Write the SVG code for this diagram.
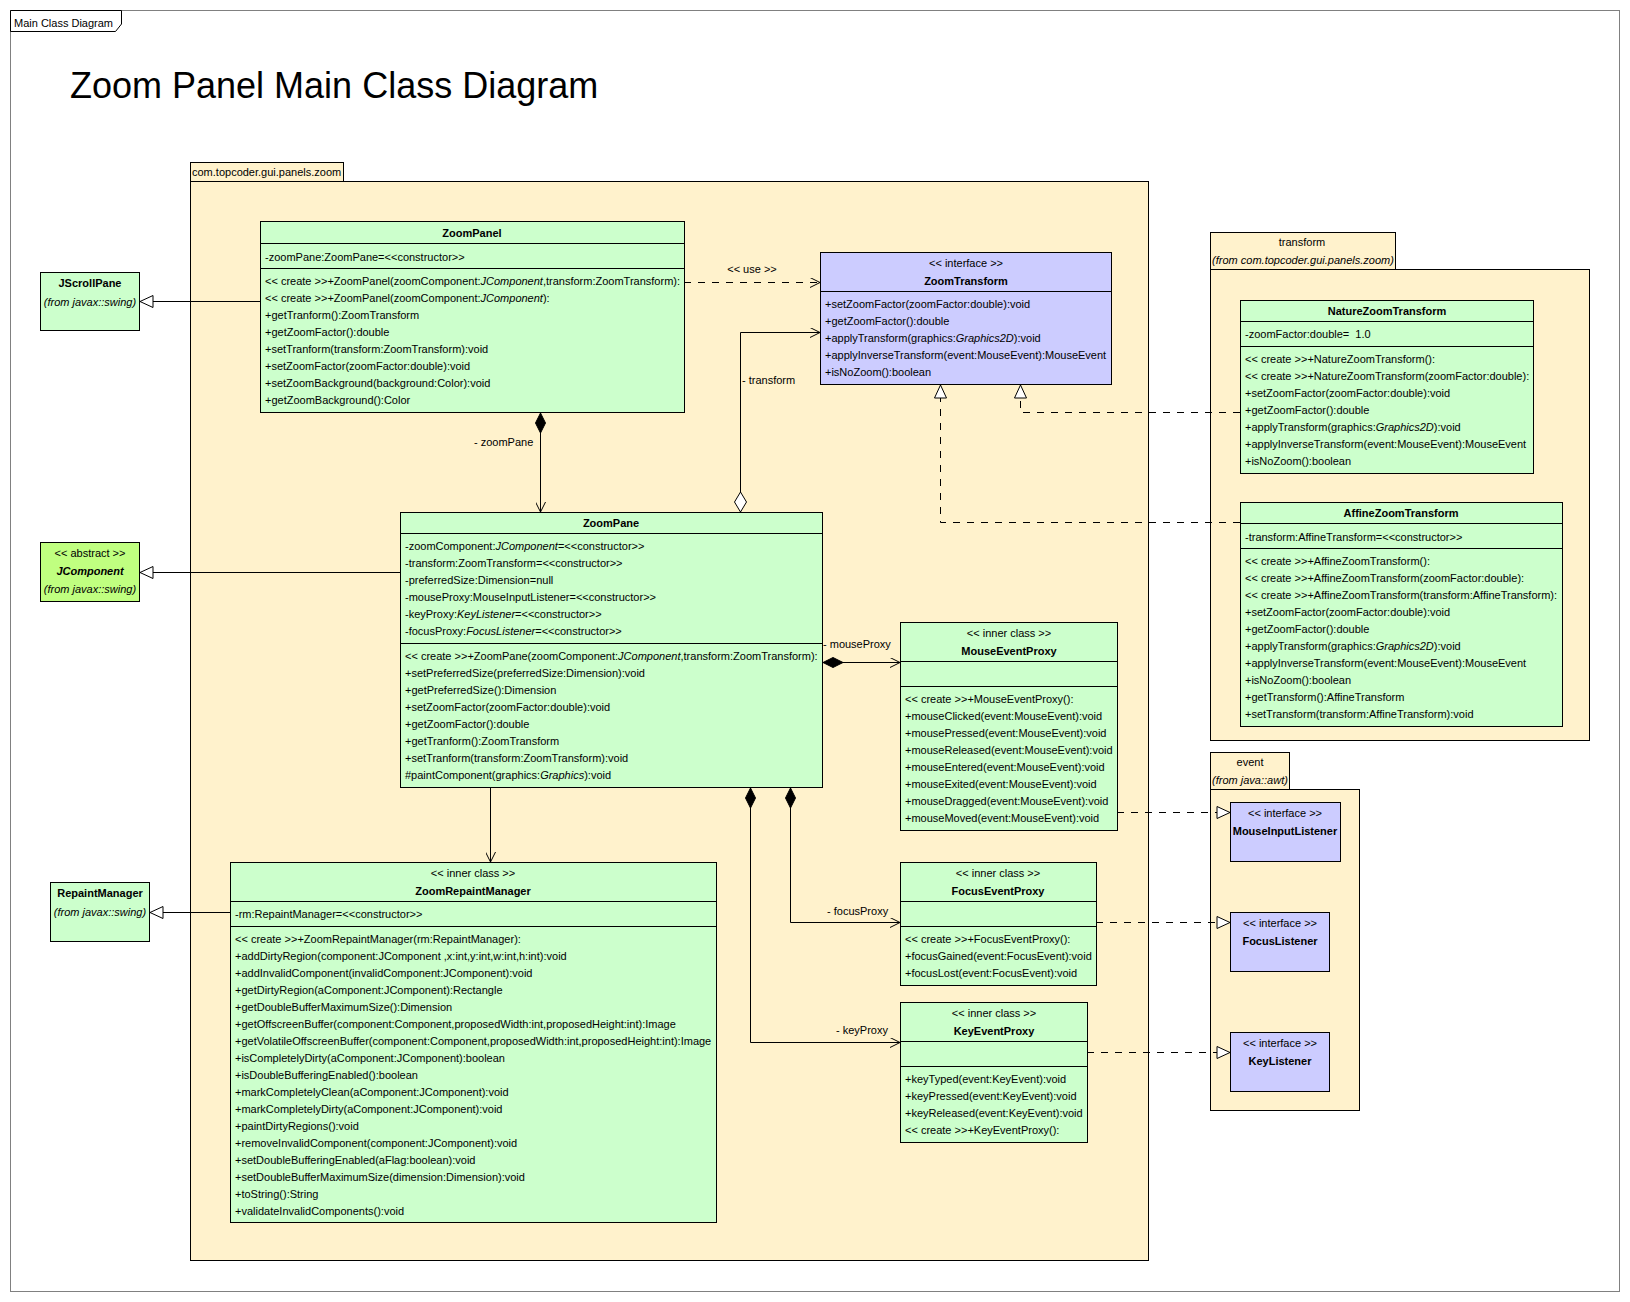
<svg xmlns="http://www.w3.org/2000/svg" width="1630" height="1302" viewBox="0 0 1630 1302">
<style>
.t{font-family:"Liberation Sans",Arial,sans-serif;font-size:11px;fill:#000}
.b{font-weight:bold}
.i{font-style:italic}
.c{text-anchor:middle}
.cls{fill:#CCFFCC;stroke:#000;stroke-width:1}
.ext{fill:#C0FF80;stroke:#000;stroke-width:1}
.itf{fill:#CCCCFF;stroke:#000;stroke-width:1}
.pkg{fill:#FFF2CC;stroke:#000;stroke-width:1}
.sep{stroke:#000;stroke-width:1}
.ln{stroke:#000;stroke-width:1;fill:none}
.dash{stroke-dasharray:7 7}
</style>
<defs>
<marker id="open" viewBox="0 0 10 10" refX="10" refY="5" markerWidth="10" markerHeight="10" markerUnits="userSpaceOnUse" orient="auto"><path d="M0,0 L10,5 L0,10" fill="none" stroke="#000" stroke-width="1"/></marker>
<marker id="tri" viewBox="-1 -1 15 14" refX="13" refY="6" markerWidth="15" markerHeight="14" markerUnits="userSpaceOnUse" orient="auto"><path d="M0,0 L13,6 L0,12 Z" fill="#fff" stroke="#000" stroke-width="1"/></marker>
<marker id="dfill" viewBox="-1 -1 22 12" refX="0" refY="5" markerWidth="22" markerHeight="12" markerUnits="userSpaceOnUse" orient="auto"><path d="M0,5 L10,0 L20,5 L10,10 Z" fill="#000" stroke="#000" stroke-width="1"/></marker>
<marker id="dopen" viewBox="-1 -1 22 14" refX="0" refY="6" markerWidth="22" markerHeight="14" markerUnits="userSpaceOnUse" orient="auto"><path d="M0,6 L10,0 L20,6 L10,12 Z" fill="#fff" stroke="#000" stroke-width="1"/></marker>
</defs>
<rect x="0" y="0" width="1630" height="1302" fill="#fff"/>
<g id="frame">
<rect x="10.5" y="10.5" width="1609" height="1281" fill="none" stroke="#808080"/>
<path d="M10.5,10.5 H121.5 V24 L115.5,31.5 H10.5 Z" fill="#fff" stroke="#000"/>
<text class="t" x="14" y="27" font-size="10.5">Main Class Diagram</text>
<text x="70" y="98" font-family="Liberation Sans,Arial,sans-serif" font-size="36">Zoom Panel Main Class Diagram</text>
</g>
<g id="pkg-zoom">
<rect class="pkg" x="190.5" y="181.5" width="958" height="1079"/>
<rect class="pkg" x="190.5" y="162.5" width="153" height="19"/>
<text class="t" x="192" y="176">com.topcoder.gui.panels.zoom</text>
</g>
<g id="pkg-transform">
<rect class="pkg" x="1210.5" y="269.5" width="379" height="471"/>
<rect class="pkg" x="1210.5" y="232.5" width="185" height="37"/>
<text class="t c" x="1302" y="246">transform</text>
<text class="t c i" x="1303" y="264">(from com.topcoder.gui.panels.zoom)</text>
</g>
<g id="pkg-event">
<rect class="pkg" x="1210.5" y="789.5" width="149" height="321"/>
<rect class="pkg" x="1210.5" y="752.5" width="79" height="37"/>
<text class="t c" x="1250" y="766">event</text>
<text class="t c i" x="1250" y="784">(from java::awt)</text>
</g>
<g id="connectors">
<path class="ln" d="M260,301.5 H140" marker-end="url(#tri)"/>
<path class="ln" d="M400,572.5 H140" marker-end="url(#tri)"/>
<path class="ln" d="M230,912.5 H150" marker-end="url(#tri)"/>
<path class="ln dash" d="M684,282.5 H820" marker-end="url(#open)"/>
<text class="t c" x="752" y="273">&lt;&lt; use &gt;&gt;</text>
<path class="ln" d="M540.5,413 V512" marker-start="url(#dfill)" marker-end="url(#open)"/>
<text class="t" x="474" y="446">- zoomPane</text>
<path class="ln" d="M740.5,512 V332.5 H820" marker-start="url(#dopen)" marker-end="url(#open)"/>
<text class="t" x="742" y="384">- transform</text>
<path class="ln" d="M490.5,788 V862" marker-end="url(#open)"/>
<path class="ln" d="M823,662.5 H900" marker-start="url(#dfill)" marker-end="url(#open)"/>
<text class="t" x="823" y="648">- mouseProxy</text>
<path class="ln" d="M790.5,788 V922.5 H900" marker-start="url(#dfill)" marker-end="url(#open)"/>
<text class="t" x="827" y="915">- focusProxy</text>
<path class="ln" d="M750.5,788 V1042.5 H900" marker-start="url(#dfill)" marker-end="url(#open)"/>
<text class="t" x="836" y="1034">- keyProxy</text>
<path class="ln dash" d="M1240,412.5 H1020.5 V385" marker-end="url(#tri)"/>
<path class="ln dash" d="M1240,522.5 H940.5 V385" marker-end="url(#tri)"/>
<path class="ln dash" d="M1117,812.5 H1230" marker-end="url(#tri)"/>
<path class="ln dash" d="M1096,922.5 H1230" marker-end="url(#tri)"/>
<path class="ln dash" d="M1087,1052.5 H1230" marker-end="url(#tri)"/>
</g>
<g id="JScrollPane">
<rect class="cls" x="40.5" y="272.5" width="99" height="58"/>
<text class="t c b" x="90" y="287">JScrollPane</text>
<text class="t c i" x="90" y="306">(from javax::swing)</text>
</g>
<g id="JComponent">
<rect class="ext" x="40.5" y="542.5" width="99" height="59"/>
<text class="t c" x="90" y="557">&lt;&lt; abstract &gt;&gt;</text>
<text class="t c b i" x="90" y="575">JComponent</text>
<text class="t c i" x="90" y="593">(from javax::swing)</text>
</g>
<g id="RepaintManager">
<rect class="cls" x="50.5" y="882.5" width="99" height="59"/>
<text class="t c b" x="100" y="897">RepaintManager</text>
<text class="t c i" x="100" y="916">(from javax::swing)</text>
</g>
<g id="ZoomPanel">
<rect class="cls" x="260.5" y="221.5" width="424" height="191"/>
<line class="sep" x1="260.5" y1="243.5" x2="684.5" y2="243.5"/>
<line class="sep" x1="260.5" y1="268.5" x2="684.5" y2="268.5"/>
<text class="t c b" x="472" y="237">ZoomPanel</text>
<text class="t" x="265" y="261">-zoomPane:ZoomPane=&lt;&lt;constructor&gt;&gt;</text>
<text class="t" x="265" y="285">&lt;&lt; create &gt;&gt;+ZoomPanel(zoomComponent:<tspan class="i">JComponent</tspan>,transform:ZoomTransform):</text>
<text class="t" x="265" y="302">&lt;&lt; create &gt;&gt;+ZoomPanel(zoomComponent:<tspan class="i">JComponent</tspan>):</text>
<text class="t" x="265" y="319">+getTranform():ZoomTransform</text>
<text class="t" x="265" y="336">+getZoomFactor():double</text>
<text class="t" x="265" y="353">+setTranform(transform:ZoomTransform):void</text>
<text class="t" x="265" y="370">+setZoomFactor(zoomFactor:double):void</text>
<text class="t" x="265" y="387">+setZoomBackground(background:Color):void</text>
<text class="t" x="265" y="404">+getZoomBackground():Color</text>
</g>
<g id="ZoomTransform">
<rect class="itf" x="820.5" y="252.5" width="291" height="132"/>
<line class="sep" x1="820.5" y1="291.5" x2="1111.5" y2="291.5"/>
<text class="t c" x="966" y="267">&lt;&lt; interface &gt;&gt;</text>
<text class="t c b" x="966" y="285">ZoomTransform</text>
<text class="t" x="825" y="308">+setZoomFactor(zoomFactor:double):void</text>
<text class="t" x="825" y="325">+getZoomFactor():double</text>
<text class="t" x="825" y="342">+applyTransform(graphics:<tspan class="i">Graphics2D</tspan>):void</text>
<text class="t" x="825" y="359">+applyInverseTransform(event:MouseEvent):MouseEvent</text>
<text class="t" x="825" y="376">+isNoZoom():boolean</text>
</g>
<g id="NatureZoomTransform">
<rect class="cls" x="1240.5" y="300.5" width="293" height="173"/>
<line class="sep" x1="1240.5" y1="321.5" x2="1533.5" y2="321.5"/>
<line class="sep" x1="1240.5" y1="346.5" x2="1533.5" y2="346.5"/>
<text class="t c b" x="1387" y="315">NatureZoomTransform</text>
<text class="t" x="1245" y="338" xml:space="preserve">-zoomFactor:double=  1.0</text>
<text class="t" x="1245" y="363">&lt;&lt; create &gt;&gt;+NatureZoomTransform():</text>
<text class="t" x="1245" y="380">&lt;&lt; create &gt;&gt;+NatureZoomTransform(zoomFactor:double):</text>
<text class="t" x="1245" y="397">+setZoomFactor(zoomFactor:double):void</text>
<text class="t" x="1245" y="414">+getZoomFactor():double</text>
<text class="t" x="1245" y="431">+applyTransform(graphics:<tspan class="i">Graphics2D</tspan>):void</text>
<text class="t" x="1245" y="448">+applyInverseTransform(event:MouseEvent):MouseEvent</text>
<text class="t" x="1245" y="465">+isNoZoom():boolean</text>
</g>
<g id="AffineZoomTransform">
<rect class="cls" x="1240.5" y="502.5" width="322" height="224"/>
<line class="sep" x1="1240.5" y1="523.5" x2="1562.5" y2="523.5"/>
<line class="sep" x1="1240.5" y1="548.5" x2="1562.5" y2="548.5"/>
<text class="t c b" x="1401" y="517">AffineZoomTransform</text>
<text class="t" x="1245" y="541">-transform:AffineTransform=&lt;&lt;constructor&gt;&gt;</text>
<text class="t" x="1245" y="565">&lt;&lt; create &gt;&gt;+AffineZoomTransform():</text>
<text class="t" x="1245" y="582">&lt;&lt; create &gt;&gt;+AffineZoomTransform(zoomFactor:double):</text>
<text class="t" x="1245" y="599">&lt;&lt; create &gt;&gt;+AffineZoomTransform(transform:AffineTransform):</text>
<text class="t" x="1245" y="616">+setZoomFactor(zoomFactor:double):void</text>
<text class="t" x="1245" y="633">+getZoomFactor():double</text>
<text class="t" x="1245" y="650">+applyTransform(graphics:<tspan class="i">Graphics2D</tspan>):void</text>
<text class="t" x="1245" y="667">+applyInverseTransform(event:MouseEvent):MouseEvent</text>
<text class="t" x="1245" y="684">+isNoZoom():boolean</text>
<text class="t" x="1245" y="701">+getTransform():AffineTransform</text>
<text class="t" x="1245" y="718">+setTransform(transform:AffineTransform):void</text>
</g>
<g id="ZoomPane">
<rect class="cls" x="400.5" y="512.5" width="422" height="275"/>
<line class="sep" x1="400.5" y1="533.5" x2="822.5" y2="533.5"/>
<line class="sep" x1="400.5" y1="643.5" x2="822.5" y2="643.5"/>
<text class="t c b" x="611" y="527">ZoomPane</text>
<text class="t" x="405" y="550">-zoomComponent:<tspan class="i">JComponent</tspan>=&lt;&lt;constructor&gt;&gt;</text>
<text class="t" x="405" y="567">-transform:ZoomTransform=&lt;&lt;constructor&gt;&gt;</text>
<text class="t" x="405" y="584">-preferredSize:Dimension=null</text>
<text class="t" x="405" y="601">-mouseProxy:MouseInputListener=&lt;&lt;constructor&gt;&gt;</text>
<text class="t" x="405" y="618">-keyProxy:<tspan class="i">KeyListener</tspan>=&lt;&lt;constructor&gt;&gt;</text>
<text class="t" x="405" y="635">-focusProxy:<tspan class="i">FocusListener</tspan>=&lt;&lt;constructor&gt;&gt;</text>
<text class="t" x="405" y="660">&lt;&lt; create &gt;&gt;+ZoomPane(zoomComponent:<tspan class="i">JComponent</tspan>,transform:ZoomTransform):</text>
<text class="t" x="405" y="677">+setPreferredSize(preferredSize:Dimension):void</text>
<text class="t" x="405" y="694">+getPreferredSize():Dimension</text>
<text class="t" x="405" y="711">+setZoomFactor(zoomFactor:double):void</text>
<text class="t" x="405" y="728">+getZoomFactor():double</text>
<text class="t" x="405" y="745">+getTranform():ZoomTransform</text>
<text class="t" x="405" y="762">+setTranform(transform:ZoomTransform):void</text>
<text class="t" x="405" y="779">#paintComponent(graphics:<tspan class="i">Graphics</tspan>):void</text>
</g>
<g id="MouseEventProxy">
<rect class="cls" x="900.5" y="622.5" width="217" height="208"/>
<line class="sep" x1="900.5" y1="661.5" x2="1117.5" y2="661.5"/>
<line class="sep" x1="900.5" y1="686.5" x2="1117.5" y2="686.5"/>
<text class="t c" x="1009" y="637">&lt;&lt; inner class &gt;&gt;</text>
<text class="t c b" x="1009" y="655">MouseEventProxy</text>
<text class="t" x="905" y="703">&lt;&lt; create &gt;&gt;+MouseEventProxy():</text>
<text class="t" x="905" y="720">+mouseClicked(event:MouseEvent):void</text>
<text class="t" x="905" y="737">+mousePressed(event:MouseEvent):void</text>
<text class="t" x="905" y="754">+mouseReleased(event:MouseEvent):void</text>
<text class="t" x="905" y="771">+mouseEntered(event:MouseEvent):void</text>
<text class="t" x="905" y="788">+mouseExited(event:MouseEvent):void</text>
<text class="t" x="905" y="805">+mouseDragged(event:MouseEvent):void</text>
<text class="t" x="905" y="822">+mouseMoved(event:MouseEvent):void</text>
</g>
<g id="FocusEventProxy">
<rect class="cls" x="900.5" y="862.5" width="196" height="123"/>
<line class="sep" x1="900.5" y1="901.5" x2="1096.5" y2="901.5"/>
<line class="sep" x1="900.5" y1="926.5" x2="1096.5" y2="926.5"/>
<text class="t c" x="998" y="877">&lt;&lt; inner class &gt;&gt;</text>
<text class="t c b" x="998" y="895">FocusEventProxy</text>
<text class="t" x="905" y="943">&lt;&lt; create &gt;&gt;+FocusEventProxy():</text>
<text class="t" x="905" y="960">+focusGained(event:FocusEvent):void</text>
<text class="t" x="905" y="977">+focusLost(event:FocusEvent):void</text>
</g>
<g id="KeyEventProxy">
<rect class="cls" x="900.5" y="1002.5" width="187" height="140"/>
<line class="sep" x1="900.5" y1="1041.5" x2="1087.5" y2="1041.5"/>
<line class="sep" x1="900.5" y1="1066.5" x2="1087.5" y2="1066.5"/>
<text class="t c" x="994" y="1017">&lt;&lt; inner class &gt;&gt;</text>
<text class="t c b" x="994" y="1035">KeyEventProxy</text>
<text class="t" x="905" y="1083">+keyTyped(event:KeyEvent):void</text>
<text class="t" x="905" y="1100">+keyPressed(event:KeyEvent):void</text>
<text class="t" x="905" y="1117">+keyReleased(event:KeyEvent):void</text>
<text class="t" x="905" y="1134">&lt;&lt; create &gt;&gt;+KeyEventProxy():</text>
</g>
<g id="ZoomRepaintManager">
<rect class="cls" x="230.5" y="862.5" width="486" height="360"/>
<line class="sep" x1="230.5" y1="901.5" x2="716.5" y2="901.5"/>
<line class="sep" x1="230.5" y1="926.5" x2="716.5" y2="926.5"/>
<text class="t c" x="473" y="877">&lt;&lt; inner class &gt;&gt;</text>
<text class="t c b" x="473" y="895">ZoomRepaintManager</text>
<text class="t" x="235" y="918">-rm:RepaintManager=&lt;&lt;constructor&gt;&gt;</text>
<text class="t" x="235" y="943">&lt;&lt; create &gt;&gt;+ZoomRepaintManager(rm:RepaintManager):</text>
<text class="t" x="235" y="960">+addDirtyRegion(component:JComponent ,x:int,y:int,w:int,h:int):void</text>
<text class="t" x="235" y="977">+addInvalidComponent(invalidComponent:JComponent):void</text>
<text class="t" x="235" y="994">+getDirtyRegion(aComponent:JComponent):Rectangle</text>
<text class="t" x="235" y="1011">+getDoubleBufferMaximumSize():Dimension</text>
<text class="t" x="235" y="1028">+getOffscreenBuffer(component:Component,proposedWidth:int,proposedHeight:int):Image</text>
<text class="t" x="235" y="1045">+getVolatileOffscreenBuffer(component:Component,proposedWidth:int,proposedHeight:int):Image</text>
<text class="t" x="235" y="1062">+isCompletelyDirty(aComponent:JComponent):boolean</text>
<text class="t" x="235" y="1079">+isDoubleBufferingEnabled():boolean</text>
<text class="t" x="235" y="1096">+markCompletelyClean(aComponent:JComponent):void</text>
<text class="t" x="235" y="1113">+markCompletelyDirty(aComponent:JComponent):void</text>
<text class="t" x="235" y="1130">+paintDirtyRegions():void</text>
<text class="t" x="235" y="1147">+removeInvalidComponent(component:JComponent):void</text>
<text class="t" x="235" y="1164">+setDoubleBufferingEnabled(aFlag:boolean):void</text>
<text class="t" x="235" y="1181">+setDoubleBufferMaximumSize(dimension:Dimension):void</text>
<text class="t" x="235" y="1198">+toString():String</text>
<text class="t" x="235" y="1215">+validateInvalidComponents():void</text>
</g>
<g id="MouseInputListener">
<rect class="itf" x="1230.5" y="802.5" width="110" height="59"/>
<text class="t c" x="1285" y="817">&lt;&lt; interface &gt;&gt;</text>
<text class="t c b" x="1285" y="835">MouseInputListener</text>
</g>
<g id="FocusListener">
<rect class="itf" x="1230.5" y="912.5" width="99" height="59"/>
<text class="t c" x="1280" y="927">&lt;&lt; interface &gt;&gt;</text>
<text class="t c b" x="1280" y="945">FocusListener</text>
</g>
<g id="KeyListener">
<rect class="itf" x="1230.5" y="1032.5" width="99" height="59"/>
<text class="t c" x="1280" y="1047">&lt;&lt; interface &gt;&gt;</text>
<text class="t c b" x="1280" y="1065">KeyListener</text>
</g>
</svg>
